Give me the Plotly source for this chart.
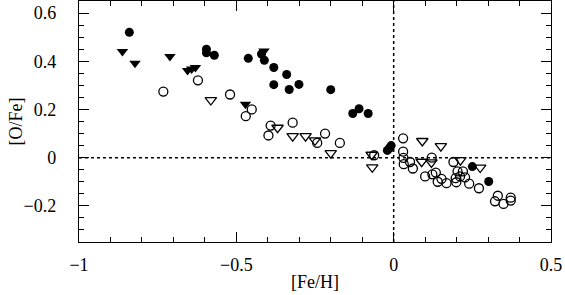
import plotly.graph_objects as go

# Filled circles
fc_x = [-0.84, -0.595, -0.595, -0.57, -0.462, -0.42, -0.411, -0.381, -0.340, -0.381,
        -0.332, -0.301, -0.200, -0.130, -0.110, -0.081, -0.020, -0.013, -0.008, 0.25, 0.302]
fc_y = [0.52, 0.45, 0.435, 0.425, 0.412, 0.43, 0.404, 0.374, 0.345, 0.303,
        0.283, 0.304, 0.282, 0.183, 0.203, 0.183, 0.030, 0.040, 0.050, -0.037, -0.099]

# Filled triangles
ft_x = [-0.862, -0.822, -0.711, -0.655, -0.642, -0.630, -0.471, -0.412]
ft_y = [0.44, 0.392, 0.42, 0.362, 0.368, 0.374, 0.222, 0.443]

# Open triangles
ot_x = [-0.581, -0.369, -0.321, -0.280, -0.250, -0.200, -0.070, -0.068,
        0.091, 0.150, 0.089, 0.120, 0.212, 0.275]
ot_y = [0.239, 0.124, 0.089, 0.089, 0.072, 0.019, 0.012, -0.040,
        0.069, 0.048, -0.017, -0.020, -0.010, -0.041]

# Open circles
oc_x = [-0.732, -0.622, -0.520, -0.451, -0.470, -0.391, -0.398, -0.321, -0.243, -0.218,
        -0.171, -0.062, 0.030, 0.030, 0.031, 0.032, 0.052, 0.061, 0.121, 0.100,
        0.123, 0.134, 0.140, 0.152, 0.168, 0.190, 0.197, 0.203, 0.220, 0.211,
        0.227, 0.199, 0.240, 0.271, 0.331, 0.322, 0.349, 0.372, 0.372]
oc_y = [0.274, 0.321, 0.262, 0.200, 0.172, 0.133, 0.092, 0.145, 0.061, 0.100,
        0.061, 0.010, 0.080, 0.025, -0.001, -0.027, -0.018, -0.045, 0.000, -0.078,
        -0.069, -0.062, -0.100, -0.088, -0.106, -0.018, -0.085, -0.057, -0.057, -0.078,
        -0.082, -0.102, -0.108, -0.127, -0.158, -0.181, -0.192, -0.166, -0.178]

x_title = "[Fe/H]"
y_title = "[O/Fe]"

FONT = "Liberation Serif, DejaVu Serif, serif"

fig = go.Figure()
fig.add_trace(go.Scatter(x=oc_x, y=oc_y, mode="markers",
                         marker=dict(symbol="circle-open", size=9, color="black",
                                     line=dict(width=1.3, color="black"))))
fig.add_trace(go.Scatter(x=ot_x, y=ot_y, mode="markers",
                         marker=dict(symbol="triangle-down-open", size=10, color="black",
                                     line=dict(width=1.3, color="black"))))
fig.add_trace(go.Scatter(x=fc_x, y=fc_y, mode="markers",
                         marker=dict(symbol="circle", size=9, color="black",
                                     line=dict(width=0))))
fig.add_trace(go.Scatter(x=ft_x, y=ft_y, mode="markers",
                         marker=dict(symbol="triangle-down", size=10, color="black",
                                     line=dict(width=0))))

fig.add_shape(type="line", x0=0, x1=0, y0=-0.35, y1=0.65, xref="x", yref="y",
              line=dict(color="black", width=1.5, dash="dot"), layer="below")
fig.add_shape(type="line", x0=-1, x1=0.5, y0=0, y1=0, xref="x", yref="y",
              line=dict(color="black", width=1.5, dash="dot"), layer="below")

axis_common = dict(
    showgrid=False, zeroline=False, showline=True, linecolor="black", linewidth=1.3,
    mirror="ticks", ticks="inside", ticklen=10, tickwidth=1.3, tickcolor="black",
    tickfont=dict(family=FONT, size=18, color="black"), automargin=False,
)

fig.update_xaxes(range=[-1, 0.5], tick0=-1, dtick=0.5,
                 minor=dict(dtick=0.1, ticks="inside", ticklen=5, tickwidth=1.3, tickcolor="black"),
                 ticklabelstandoff=6,
                 **axis_common)
fig.update_yaxes(range=[-0.35, 0.65], tick0=0, dtick=0.2,
                 minor=dict(dtick=0.05, ticks="inside", ticklen=5, tickwidth=1.3, tickcolor="black"),
                 ticklabelstandoff=18,
                 **axis_common)

fig.add_annotation(text=x_title, xref="paper", yref="paper", x=0.5, y=0,
                   yshift=-40, yanchor="middle", showarrow=False,
                   font=dict(family=FONT, size=18, color="black"))
fig.add_annotation(text=y_title, xref="paper", yref="paper", x=0, y=0.5,
                   xshift=-64, xanchor="center", yanchor="middle", textangle=-90,
                   showarrow=False, font=dict(family=FONT, size=18, color="black"))

fig.update_layout(width=565, height=295, showlegend=False,
                  margin=dict(l=79, r=14, t=1, b=53),
                  plot_bgcolor="white", paper_bgcolor="white")

fig.write_html("out.html", config={"displayModeBar": False},
               post_script="document.body.style.margin='0';document.body.style.padding='0';")
